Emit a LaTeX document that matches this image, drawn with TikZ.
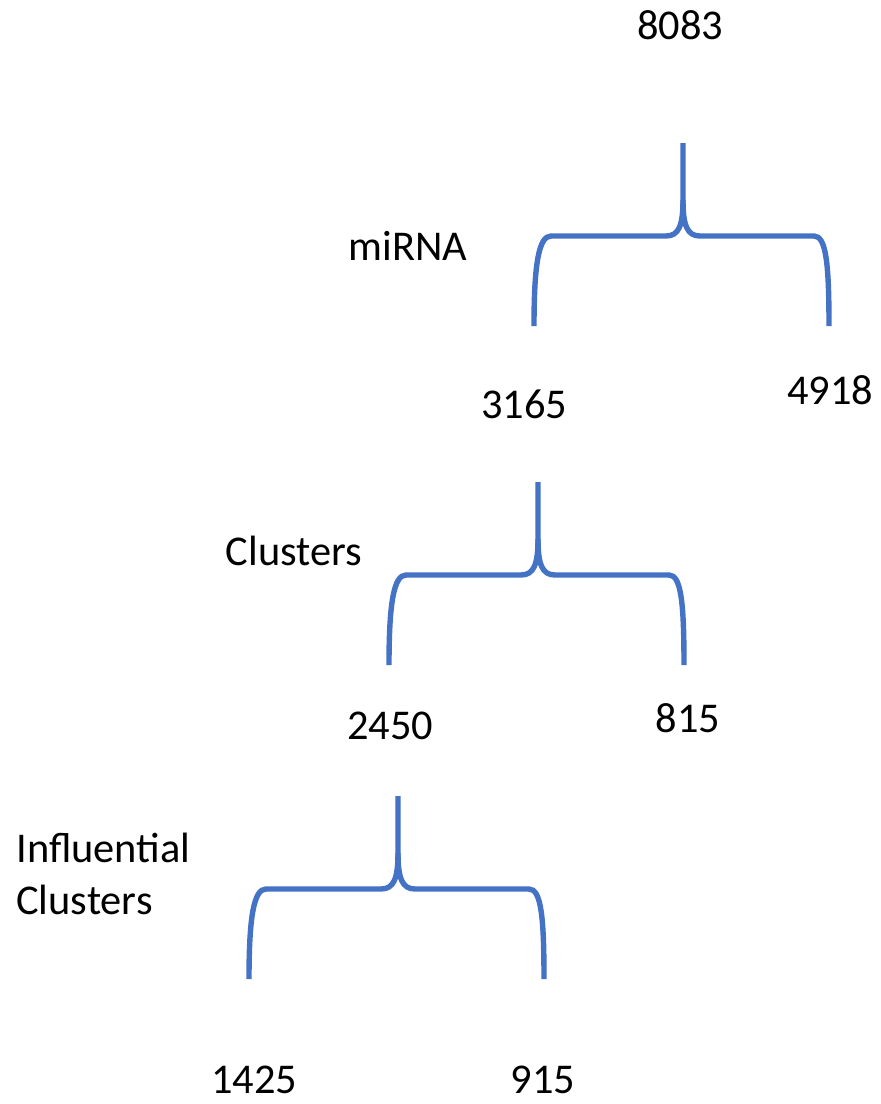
\documentclass[tikz,border=0pt]{standalone}
\usepackage{fontspec}
\setmainfont{Carlito}
\definecolor{braceblue}{HTML}{4472C4}
\begin{document}
\begin{tikzpicture}[x=0.5pt,y=-0.5pt,
  lbl/.style={inner sep=0pt,font=\fontsize{21.2}{26}\selectfont},
  bracepath/.style={draw=braceblue,line width=2.7pt},
  pics/curlybrace/.style={code={
    \draw[bracepath] (-149,183) .. controls (-149,120) and (-144,93) .. (-132,93)
      -- (-17,93) .. controls (-4,93) and (0,82) .. (0,57) -- (0,0);
    \draw[bracepath] (0,57) .. controls (0,82) and (4,93) .. (17,93)
      -- (131,93) .. controls (143,93) and (146,120) .. (146,183);
  }}]
\useasboundingbox (0,0) rectangle (881,1104);
\node[lbl] (n8083) at (680,25) {8083};
\node[lbl] (lmirna) at (408,246) {miRNA};
\node[lbl] (n3165) at (524,404) {3165};
\node[lbl] (n4918) at (830,390) {4918};
\node[lbl] (lclusters) at (294,551) {Clusters};
\node[lbl] (n2450) at (390,726) {2450};
\node[lbl] (n815) at (688,718) {815};
\node[lbl,anchor=west,align=left] (linfl) at (16,874) {Influential\\Clusters};
\node[lbl] (n1425) at (254,1080) {1425};
\node[lbl] (n915) at (543,1080) {915};
\pic at (683,143) {curlybrace};
\pic at (538,482) {curlybrace};
\pic at (398,796) {curlybrace};
\end{tikzpicture}
\end{document}
